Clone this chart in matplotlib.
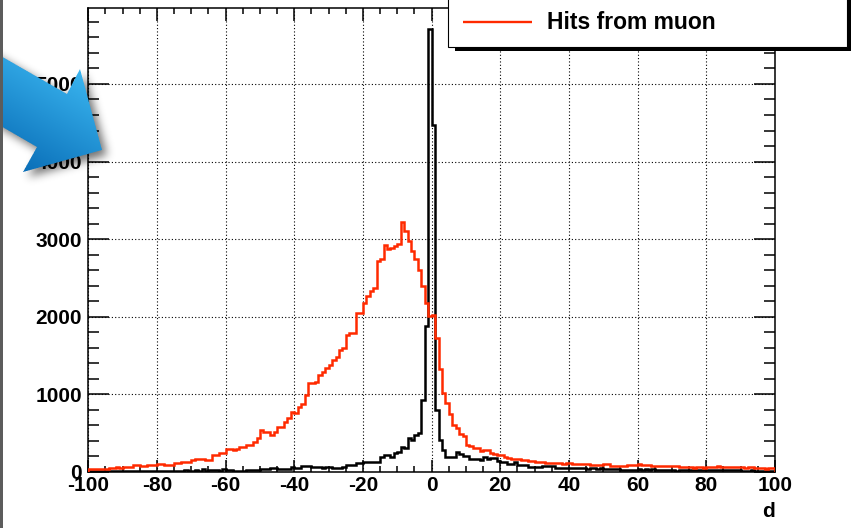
import numpy as np
import matplotlib
matplotlib.use('Agg')
import matplotlib.pyplot as plt
from matplotlib.patches import Rectangle
from matplotlib.path import Path
from matplotlib.ticker import MultipleLocator

plt.rcParams['font.family'] = ['Liberation Sans', 'DejaVu Sans']
plt.rcParams['axes.unicode_minus'] = False

W, H = 860, 528

# 1-unit bins of d from -100 to 100
edges = np.arange(-100, 101, 1)

# all hits (black), bins d = -100 ... -1
total_neg = [5, 4, 6, 3, 5, 4, 6, 5, 7, 4, 6, 5, 8, 6, 7, 5, 8, 9, 7, 8,
             6, 9, 8, 10, 9,
             12, 14, 10, 25, 15, 13, 16, 14, 30, 15, 17, 16, 18, 15, 32, 17, 16,
             13, 14, 12, 15, 22, 24, 21, 23, 34, 33, 35, 43, 42,
             34, 35, 33, 36, 65, 43, 44, 73, 72, 74,
             56, 55, 57, 54, 56, 55, 43, 45, 42, 65, 86, 86, 88,
             108, 110, 129, 128, 130, 129, 131, 194, 215, 213, 194, 237,
             259, 323, 300, 431, 410, 474, 496, 927, 1875, 5711]
# all hits (black), bins d = 0 ... 99
total_pos = [4470, 800, 410, 280, 196, 190, 187, 260, 232, 205,
             204, 162, 160, 158, 152, 187, 162, 175, 172, 143,
             124, 120, 100, 102, 130, 88, 86, 87, 58, 56,
             57, 58, 74, 72, 75, 73, 48, 50, 46, 49,
             47, 43, 45, 42, 44, 40, 43, 45, 41, 44,
             35, 32, 30, 34, 31, 20, 18, 22, 19, 21,
             30, 28, 32, 27, 29, 18, 17, 19, 16, 20,
             18, 15, 19, 17, 18, 16, 19, 17, 18, 16,
             22, 20, 23, 21, 24, 19, 22, 21, 20, 23,
             14, 15, 13, 16, 12, 14, 15, 13, 12, 14]

# hits from muon (red), bins d = -100 ... -1
muon_neg = [35, 30, 40, 35, 38, 40, 42, 45, 55, 52, 58, 55, 56, 85, 88,
            73, 75, 80, 82, 84, 99, 95, 86, 84, 88, 115, 118, 128, 130, 125,
            150, 163, 160, 165, 150, 148, 215, 212, 236, 238, 288, 292,
            285, 295, 315, 322, 344, 350, 387, 430,
            538, 516, 516, 473, 516, 580, 580, 645, 688, 765,
            752, 838, 873, 989, 1140, 1145, 1161, 1247, 1290, 1333,
            1380, 1440, 1475, 1570, 1600, 1763, 1784, 1790, 2047, 2050,
            2177, 2263, 2327, 2370, 2715, 2737, 2930, 2866, 2890, 2910,
            2931, 3215, 3103, 2980, 2850, 2740, 2600, 2400, 2180, 2004]
# hits from muon (red), bins d = 0 ... 99
muon_pos = [2026, 1730, 1320, 1013, 890, 750, 600, 560, 485, 455,
            345, 326, 305, 300, 262, 283, 280, 240, 230, 218,
            215, 196, 174, 170, 165, 160, 152, 145, 139, 135,
            122, 125, 120, 117, 115, 118, 109, 110, 105, 110,
            117, 100, 105, 98, 100, 95, 87, 90, 85, 86,
            99, 95, 73, 75, 70, 78, 73, 86, 82, 88,
            95, 90, 82, 80, 75, 73, 70, 75, 72, 70,
            76, 72, 56, 58, 55, 60, 52, 56, 58, 54,
            55, 65, 62, 68, 60, 66, 63, 58, 56, 55,
            60, 52, 57, 55, 54, 43, 45, 40, 48, 42]

hits_total = np.array(total_neg + total_pos)
hits_muon = np.array(muon_neg + muon_pos)

x_ticks = np.arange(-100, 101, 20)
y_ticks = np.arange(0, 6000, 1000)

RED = '#ff2a00'
BOLD = dict(fontfamily=['Liberation Sans', 'DejaVu Sans'], fontweight='bold')


def px_rect(x0, y0, x1, y1):
    return [x0 / W, 1 - y1 / H, (x1 - x0) / W, (y1 - y0) / H]


fig = plt.figure(figsize=(W / 100, H / 100), dpi=100)
fig.patch.set_facecolor('white')

ax = fig.add_axes(px_rect(88.3, 8, 775, 471.7))
ax.stairs(hits_total, edges, color='black', lw=1.8, baseline=0, zorder=3)
ax.stairs(hits_muon, edges, color=RED, lw=1.8, baseline=0, zorder=4)
ax.set_xlim(-100, 100)
ax.set_ylim(0, 5980)
ax.set_xticks(x_ticks)
ax.set_yticks(y_ticks)
ax.xaxis.set_minor_locator(MultipleLocator(5))
ax.yaxis.set_minor_locator(MultipleLocator(200))
ax.tick_params(which='both', direction='in', top=True, right=True,
               width=1.1, color='black', labelsize=15)
ax.tick_params(axis='x', which='major', length=9, pad=3)
ax.tick_params(axis='x', which='minor', length=4.3)
ax.tick_params(axis='y', which='major', length=15, pad=4.5)
ax.tick_params(axis='y', which='minor', length=8)
for lab in ax.get_xticklabels() + ax.get_yticklabels():
    lab.set_fontweight('bold')
ax.grid(True, which='major', color='black', linestyle=(0, (1, 2)), lw=0.8)
ax.set_axisbelow(True)
for sp in ax.spines.values():
    sp.set_linewidth(1.1)
ax.set_xlabel('d', loc='right', fontsize=15, labelpad=5, **BOLD)

# overlay in pixel coordinates for legend box and arrow
ov = fig.add_axes([0, 0, 1, 1], zorder=5)
ov.set_xlim(0, W)
ov.set_ylim(H, 0)
ov.axis('off')
ov.patch.set_alpha(0)

ov.add_patch(Rectangle((455, -10), 396, 61, fc='black', ec='none'))
ov.add_patch(Rectangle((448, -10), 399, 57, fc='white', ec='black', lw=0.8))
ov.plot([463, 532], [22, 22], color=RED, lw=1.7, solid_capstyle='butt')
ov.text(547, 22.5, 'Hits from muon', ha='left', va='center', fontsize=16.5, **BOLD)

# blue arrow with soft drop shadow
arrow = Path([(-20, 44), (67, 94), (80, 69), (102, 150), (23, 172),
              (37, 147), (-20, 114), (-20, 44)], closed=True)
gx0, gx1, gy0, gy1 = -30, 170, 20, 230
ss = 3
xs = np.arange(gx0, gx1, 1 / ss) + 0.5 / ss
ys = np.arange(gy0, gy1, 1 / ss) + 0.5 / ss
XX, YY = np.meshgrid(xs, ys)
inside = arrow.contains_points(np.c_[XX.ravel(), YY.ravel()]).reshape(XX.shape)
ny, nx = (gy1 - gy0), (gx1 - gx0)
alpha = inside.reshape(ny, ss, nx, ss).mean(axis=(1, 3))

# shadow: shifted and blurred mask
shift = np.roll(np.roll(alpha, 5, axis=0), 5, axis=1)
k = np.exp(-0.5 * (np.arange(-12, 13) / 4.5) ** 2)
k /= k.sum()
blur = np.apply_along_axis(lambda r: np.convolve(r, k, mode='same'), 0, shift)
blur = np.apply_along_axis(lambda r: np.convolve(r, k, mode='same'), 1, blur)
shadow = np.zeros((ny, nx, 4))
shadow[..., 3] = 0.55 * blur
ext = (gx0, gx1, gy1, gy0)
ov.imshow(shadow, extent=ext, origin='upper', aspect='auto', zorder=6,
          interpolation='bilinear')

cx = np.arange(gx0, gx1) + 0.5
cy = np.arange(gy0, gy1) + 0.5
CX, CY = np.meshgrid(cx, cy)
s = np.clip((-0.505 * CX + 0.864 * CY - 15) / 125, 0, 1)[..., None]
light = np.array([0x3c, 0xb8, 0xf2]) / 255
dark = np.array([0x08, 0x6c, 0xb6]) / 255
img = np.zeros((ny, nx, 4))
img[..., :3] = light * (1 - s) + dark * s
img[..., 3] = alpha
ov.imshow(img, extent=ext, origin='upper', aspect='auto', zorder=7,
          interpolation='bilinear')

ov.add_patch(Rectangle((0, 0), 3, H, fc='#5c5c5c', ec='none', zorder=8))
ov.set_xlim(0, W)
ov.set_ylim(H, 0)

fig.savefig('out.png', dpi=100)
